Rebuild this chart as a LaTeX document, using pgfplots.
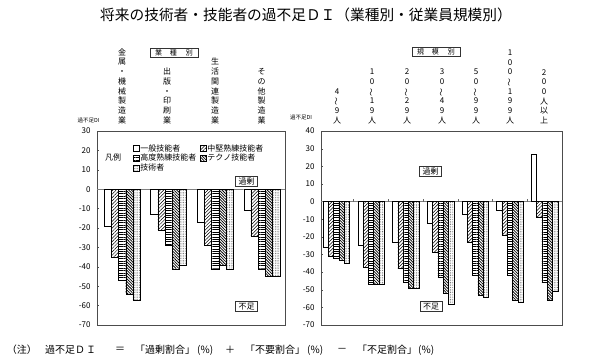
\documentclass[border=0pt]{standalone}
\usepackage{fontspec}
\setmainfont{Noto Sans CJK JP}[Kerning=Off]
\usepackage{graphicx}
\usepackage{pgfplots}
\usepackage{pgfplotstable}
\pgfplotsset{compat=1.18}
\usetikzlibrary{patterns.meta}

\newcommand{\vt}{\rotatebox[origin=c]{90}{～}}

\pgfplotsset{
  sqlegend/.style={legend image code/.code={\draw[##1] (0pt,-3pt) rectangle (6pt,3pt);}},
  p1/.style={fill=white, draw=black, line width=0.4pt, sqlegend},
  p2/.style={draw=black, line width=0.4pt, pattern={Lines[angle=45,distance=2.4pt,line width=0.5pt]}, sqlegend},
  p3/.style={draw=black, line width=0.4pt, pattern={Lines[angle=0,distance=2.4pt,line width=0.5pt]}, sqlegend},
  p4/.style={draw=black, line width=0.4pt, pattern={Lines[angle=-45,distance=2pt,line width=0.75pt]}, sqlegend},
  p5/.style={draw=black, line width=0.4pt, pattern={Dots[distance=1.7pt,radius=0.4pt]}, pattern color=black!70, sqlegend},
  panel/.style={
    anchor=south west, scale only axis, height=194pt,
    ybar=0pt, xtick=\empty,
    ytick pos=left, tick align=inside, major tick length=2pt,
    tick style={black!70},
    axis line style={black!70, line width=0.5pt},
    yticklabel style={font=\fontsize{8}{8}\selectfont, xshift=-3pt},
    /pgf/number format/assume math mode=true,
  },
}

\pgfplotstableread{
x a b c d e
0 -19 -35 -47 -54 -57
1 -13 -21 -29 -41 -39
2 -17 -29 -41 -39 -41
3 -11 -24 -41 -45 -45
}\leftdata

\pgfplotstableread{
x a b c d e
0 -26 -31 -32 -33 -35
1 -25 -37 -47 -47 -47
2 -23 -38 -46 -49 -49
3 -12 -29 -43 -52 -58
4 -7 -23 -42 -53 -54
5 -5 -19 -42 -56 -57
6 27 -9 -46 -56 -51
}\rightdata

\begin{document}
\begin{tikzpicture}
\useasboundingbox (0,0) rectangle (600pt,364pt);

% ---------- left panel ----------
\begin{axis}[panel,
  at={(97pt,39pt)}, width=188pt,
  bar width=7.2pt,
  xmin=-0.54, xmax=3.5, ymin=-70, ymax=30,
  ytick={-70,-60,...,30},
  legend columns=2,
  legend cell align=left,
  legend style={at={(0.1915,0.935)}, anchor=north west, draw=none, fill=none,
    font=\fontsize{8}{9}\selectfont, inner sep=0pt, row sep=0.6pt,
    nodes={inner sep=0.8pt, text height=6.4pt, text depth=1.2pt},
    /tikz/every even column/.append style={column sep=3pt}},
]
\draw[black!50, line width=0.3pt] (axis cs:-0.54,0) -- (axis cs:3.5,0);
\addplot[p1] table[x=x,y=a] {\leftdata};
\addplot[p2] table[x=x,y=b] {\leftdata};
\addplot[p3] table[x=x,y=c] {\leftdata};
\addplot[p4] table[x=x,y=d] {\leftdata};
\addplot[p5] table[x=x,y=e] {\leftdata};
\legend{一般技能者,中堅熟練技能者,高度熟練技能者,テクノ技能者,技術者}
\end{axis}

% ---------- right panel ----------
\begin{axis}[panel,
  at={(321pt,39pt)}, width=241pt,
  bar width=5.3pt,
  xmin=-0.44, xmax=6.5, ymin=-70, ymax=40,
  ytick={-70,-60,...,40},
]
\draw[black!50, line width=0.3pt] (axis cs:-0.44,0) -- (axis cs:6.5,0);
\pgfplotsinvokeforeach{0.5,1.5,2.5,3.5,4.5,5.5}{
  \draw[black!60, line width=0.3pt] (axis cs:#1,0) -- (axis cs:#1,1.2);
}
\addplot[p1] table[x=x,y=a] {\rightdata};
\addplot[p2] table[x=x,y=b] {\rightdata};
\addplot[p3] table[x=x,y=c] {\rightdata};
\addplot[p4] table[x=x,y=d] {\rightdata};
\addplot[p5] table[x=x,y=e] {\rightdata};
\end{axis}

% ---------- title ----------
\node[font=\fontsize{14.7}{15}\selectfont, inner sep=0] at (306pt,349pt)
  {将来の技術者・技能者の過不足ＤＩ（業種別・従業員規模別）};

% ---------- vertical category labels ----------
\begin{scope}[every node/.style={anchor=south, align=center, inner sep=0pt,
    font=\fontsize{8}{9.7}\selectfont}]
\node at (122pt,240pt) {金\\属\\・\\機\\械\\製\\造\\業};
\node at (167pt,240pt) {出\\版\\・\\印\\刷\\業};
\node at (215pt,240pt) {生\\活\\関\\連\\製\\造\\業};
\node at (261.5pt,240pt) {そ\\の\\他\\製\\造\\業};
\node at (337pt,240pt) {4\\\vt\\9\\人};
\node at (372pt,240pt) {1\\0\\\vt\\1\\9\\人};
\node at (407pt,240pt) {2\\0\\\vt\\2\\9\\人};
\node at (442pt,240pt) {3\\0\\\vt\\4\\9\\人};
\node at (476pt,240pt) {5\\0\\\vt\\9\\9\\人};
\node at (510pt,240pt) {1\\0\\0\\\vt\\1\\9\\9\\人};
\node at (544pt,240pt) {2\\0\\0\\人\\以\\上};
\end{scope}

% ---------- boxed headers ----------
\node[draw=black!80, line width=0.6pt, minimum width=48pt, minimum height=9pt, inner sep=0pt,
  font=\fontsize{7}{7}\selectfont] at (174pt,311.5pt) {業\hspace{8pt}種\hspace{9pt}別};
\node[draw=black!80, line width=0.6pt, minimum width=48pt, minimum height=9pt, inner sep=0pt,
  font=\fontsize{7}{7}\selectfont] at (436pt,312pt) {規\hspace{8pt}模\hspace{9pt}別};

% ---------- y labels ----------
\node[font=\fontsize{5.5}{6}\selectfont, inner sep=0] at (88.5pt,244pt) {過不足DI};
\node[font=\fontsize{5.5}{6}\selectfont, inner sep=0] at (301pt,247pt) {過不足DI};

% ---------- legend caption ----------
\node[font=\fontsize{8}{8}\selectfont, inner sep=0] at (113pt,207pt) {凡例};

% ---------- 過剰 / 不足 ----------
\begin{scope}[every node/.style={draw=black!80, line width=0.5pt, inner sep=1pt,
    minimum width=22pt, minimum height=10pt, font=\fontsize{8}{8}\selectfont}]
\node at (246.7pt,183pt) {過剰};
\node at (430.5pt,193pt) {過剰};
\node at (246.7pt,57.3pt) {不足};
\node at (431pt,57.3pt) {不足};
\end{scope}

% ---------- footnote ----------
\begin{scope}[every node/.style={anchor=west, inner sep=0pt, font=\fontsize{10}{10}\selectfont}]
\node at (6.7pt,14pt) {（注）};
\node at (45pt,14pt) {過不足Ｄ\hspace{1pt}Ｉ};
\node at (115pt,14pt) {＝};
\node at (135pt,14pt) {「過剰割合」};
\node at (197pt,14pt) {(\%)};
\node at (225pt,14pt) {＋};
\node at (245pt,14pt) {「不要割合」};
\node at (307pt,14pt) {(\%)};
\node at (337pt,14pt) {－};
\node at (357pt,14pt) {「不足割合」};
\node at (418pt,14pt) {(\%)};
\end{scope}
\end{tikzpicture}
\end{document}
